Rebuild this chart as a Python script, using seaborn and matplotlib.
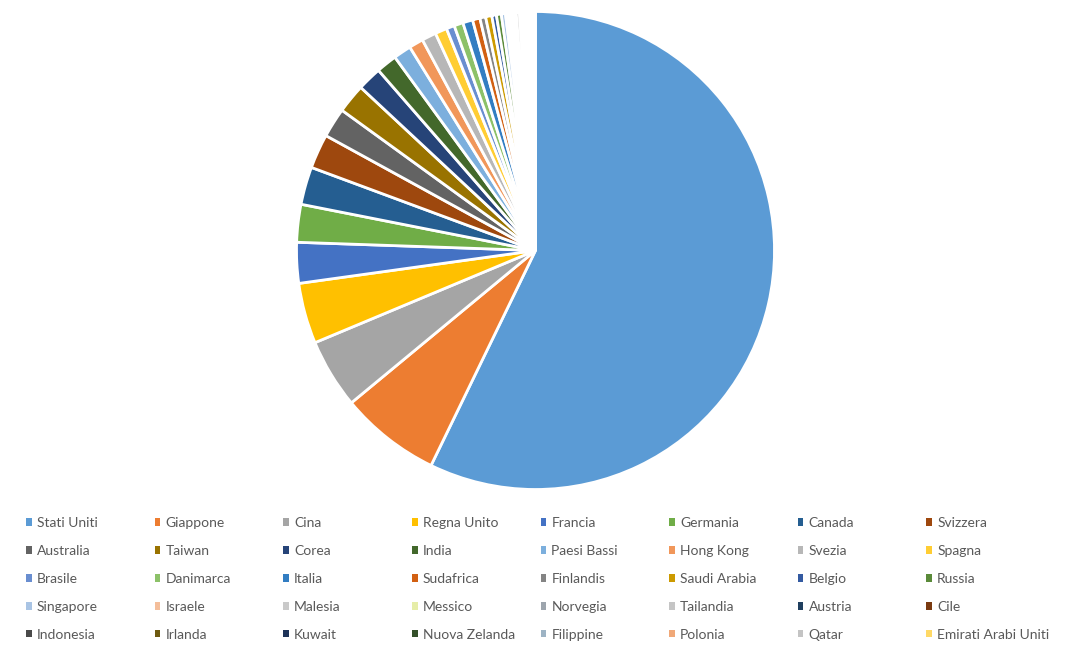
import matplotlib
matplotlib.use("Agg")
import matplotlib.pyplot as plt
from matplotlib.patches import Patch
import seaborn as sns

# Paesi, in legend order
countries = ["Stati Uniti", "Giappone", "Cina", "Regna Unito", "Francia", "Germania", "Canada", "Svizzera",
             "Australia", "Taiwan", "Corea", "India", "Paesi Bassi", "Hong Kong", "Svezia", "Spagna",
             "Brasile", "Danimarca", "Italia", "Sudafrica", "Finlandis", "Saudi Arabia", "Belgio", "Russia",
             "Singapore", "Israele", "Malesia", "Messico", "Norvegia", "Tailandia", "Austria", "Cile",
             "Indonesia", "Irlanda", "Kuwait", "Nuova Zelanda", "Filippine", "Polonia", "Qatar", "Emirati Arabi Uniti"]

# Share of each slice
shares = [57.2, 6.8, 4.7, 4.1, 2.75, 2.55, 2.55, 2.33,
          2.0, 1.97, 1.64, 1.4, 1.2, 0.97, 0.97, 0.8,
          0.55, 0.61, 0.67, 0.5, 0.39, 0.42, 0.31, 0.33,
          0.28, 0.18, 0.18, 0.18, 0.18, 0.22, 0.107, 0.107,
          0.107, 0.107, 0.107, 0.107, 0.107, 0.107, 0.107, 0.107]

colors = ["#5B9BD5", "#ED7D31", "#A5A5A5", "#FFC000", "#4472C4", "#70AD47", "#255E91", "#9E480E",
          "#636363", "#997300", "#264478", "#43682B", "#7CAFDD", "#F1975A", "#B7B7B7", "#FFCD33",
          "#698ED0", "#8CC168", "#327DC2", "#D26012", "#848484", "#CC9A00", "#335AA1", "#5A8A39",
          "#A9C4E4", "#F4BE9A", "#C9C9C9", "#E6EDA8", "#9DA5AD", "#C5C5C5", "#1F3F5F", "#7A3A10",
          "#4A4A4A", "#6E5A10", "#1D3358", "#34502A", "#9DB3C4", "#F0A878", "#C4C4C4", "#FFD966"]

sns.set_theme(style="white")
plt.rcParams["font.family"] = ["Lato", "DejaVu Sans"]

fig = plt.figure(figsize=(10.68, 6.54), dpi=100)
ax = fig.add_axes([0, 0, 1, 1])

ax.pie(shares, colors=sns.color_palette(colors, len(colors)), startangle=90, counterclock=False,
       center=(535.5, 403.5), radius=239, wedgeprops={"edgecolor": "white", "linewidth": 2})
ax.set_xlim(0, 1068)
ax.set_ylim(0, 654)
ax.axis("off")

# one legend per column so the columns keep the even spacing of the original
n_cols = 8
for col in range(n_cols):
    handles = [Patch(facecolor=c, edgecolor="none") for c in colors[col::n_cols]]
    leg = ax.legend(handles, countries[col::n_cols], loc="upper left",
                    bbox_to_anchor=((26.2 + col * 128.6) / 1068, 1 - 517 / 654),
                    frameon=False, fontsize=10, labelcolor="#595959",
                    handlelength=0.41, handleheight=0.41, handletextpad=0.36,
                    labelspacing=1.15, borderpad=0, borderaxespad=0)
    ax.add_artist(leg)
ax.legend_ = None

fig.savefig("out.png", dpi=100)
